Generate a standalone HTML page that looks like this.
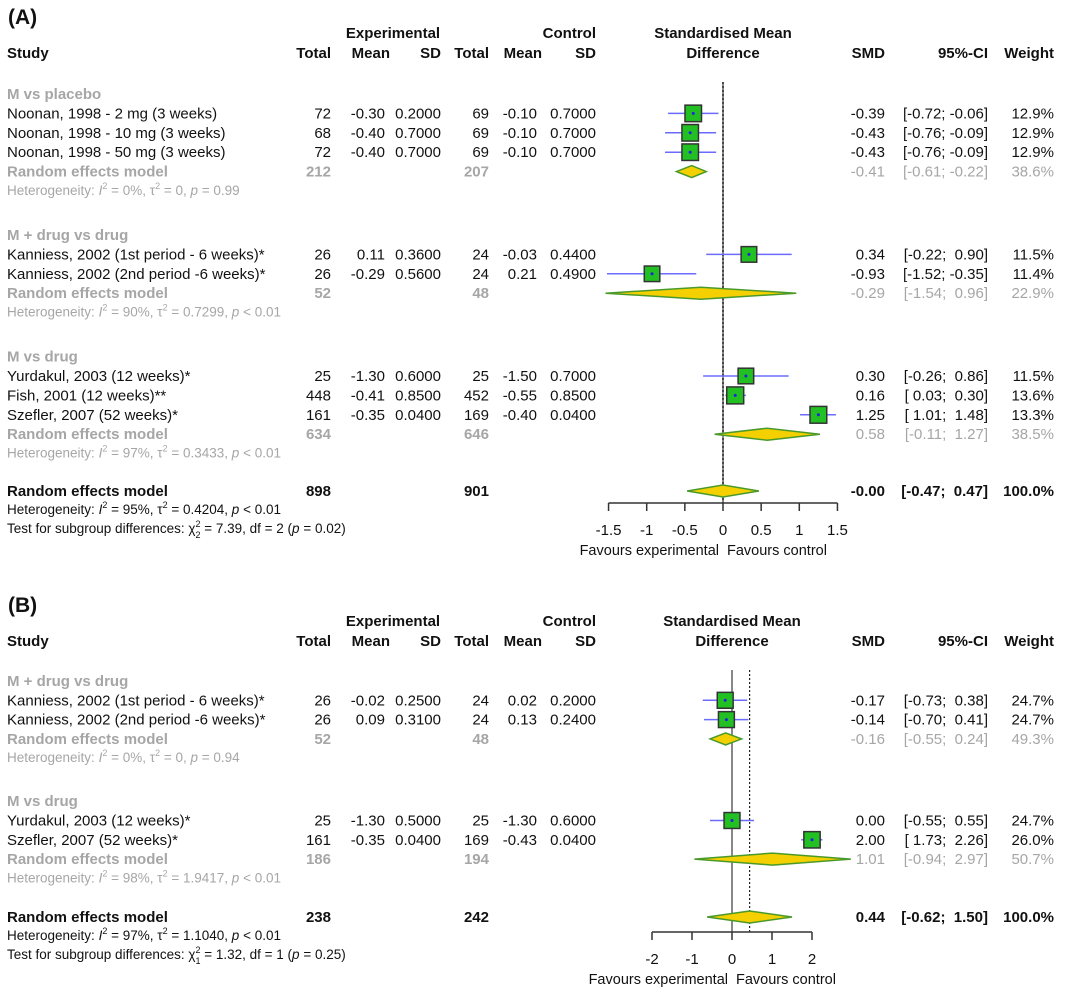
<!DOCTYPE html>
<html><head><meta charset="utf-8"><style>
html,body{margin:0;padding:0;background:#fff}
svg text{font-family:"Liberation Sans",Arial,sans-serif;white-space:pre}
</style></head><body>
<svg id="fp" width="1065" height="995" viewBox="0 0 1065 995" xmlns="http://www.w3.org/2000/svg"></svg>
<script>
// ---------- Panel A data ----------
const aStudies = ["Noonan, 1998 - 2 mg (3 weeks)","Noonan, 1998 - 10 mg (3 weeks)","Noonan, 1998 - 50 mg (3 weeks)","Kanniess, 2002 (1st period - 6 weeks)*","Kanniess, 2002 (2nd period -6 weeks)*","Yurdakul, 2003 (12 weeks)*","Fish, 2001 (12 weeks)**","Szefler, 2007 (52 weeks)*"];
const aEtot = [72,68,72,26,26,25,448,161];
const aEmean = ["-0.30","-0.40","-0.40","0.11","-0.29","-1.30","-0.41","-0.35"];
const aEsd = ["0.2000","0.7000","0.7000","0.3600","0.5600","0.6000","0.8500","0.0400"];
const aCtot = [69,69,69,24,24,25,452,169];
const aCmean = ["-0.10","-0.10","-0.10","-0.03","0.21","-1.50","-0.55","-0.40"];
const aCsd = ["0.7000","0.7000","0.7000","0.4400","0.4900","0.7000","0.8500","0.0400"];
const aSmd = [-0.39,-0.43,-0.43,0.34,-0.93,0.30,0.16,1.25];
const aLo = [-0.72,-0.76,-0.76,-0.22,-1.52,-0.26,0.03,1.01];
const aHi = [-0.06,-0.09,-0.09,0.90,-0.35,0.86,0.30,1.48];
const aW = [12.9,12.9,12.9,11.5,11.4,11.5,13.6,13.3];
const aGroups = ["M vs placebo","M + drug vs drug","M vs drug"];
const aGroupRows = [[0,1,2],[3,4],[5,6,7]];
const aGsmd = [-0.41,-0.29,0.58], aGlo=[-0.61,-1.54,-0.11], aGhi=[-0.22,0.96,1.27], aGw=["38.6%","22.9%","38.5%"];
const aGE=[212,52,634], aGC=[207,48,646];
const aGhet=[["0%","0","= 0.99"],["90%","0.7299","< 0.01"],["97%","0.3433","< 0.01"]];
const aOv = {smd:-0.00,lo:-0.47,hi:0.47,e:898,c:901,het:["95%","0.4204","< 0.01"],chi:["2","7.39","2","0.02"]};
const aTicks = [-1.5,-1,-0.5,0,0.5,1,1.5];
const aTickLabels = ["-1.5","-1","-0.5","0","0.5","1","1.5"];

// ---------- Panel B data ----------
const bStudies = ["Kanniess, 2002 (1st period - 6 weeks)*","Kanniess, 2002 (2nd period -6 weeks)*","Yurdakul, 2003 (12 weeks)*","Szefler, 2007 (52 weeks)*"];
const bEtot=[26,26,25,161];
const bEmean=["-0.02","0.09","-1.30","-0.35"];
const bEsd=["0.2500","0.3100","0.5000","0.0400"];
const bCtot=[24,24,25,169];
const bCmean=["0.02","0.13","-1.30","-0.43"];
const bCsd=["0.2000","0.2400","0.6000","0.0400"];
const bSmd=[-0.17,-0.14,0.00,2.00];
const bLo=[-0.73,-0.70,-0.55,1.73];
const bHi=[0.38,0.41,0.55,2.26];
const bW=[24.7,24.7,24.7,26.0];
const bGroups=["M + drug vs drug","M vs drug"];
const bGroupRows=[[0,1],[2,3]];
const bGsmd=[-0.16,1.01], bGlo=[-0.55,-0.94], bGhi=[0.24,2.97], bGw=["49.3%","50.7%"];
const bGE=[52,186], bGC=[48,194];
const bGhet=[["0%","0","= 0.94"],["98%","1.9417","< 0.01"]];
const bOv={smd:0.44,lo:-0.62,hi:1.50,e:238,c:242,het:["97%","1.1040","< 0.01"],chi:["1","1.32","1","0.25"]};
const bTicks=[-2,-1,0,1,2];
const bTickLabels=["-2","-1","0","1","2"];

const svg=document.getElementById('fp');
const NS="http://www.w3.org/2000/svg";
function mk(tag,attrs,parent){const e=document.createElementNS(NS,tag);for(const k in attrs)e.setAttribute(k,attrs[k]);(parent||svg).appendChild(e);return e;}
function txt(x,y,s,o,parent){o=o||{};const t=mk('text',{x:x,y:y,'font-size':o.fs||15,'fill':o.fill||'#111','text-anchor':o.anchor||'start','font-weight':o.bold?'bold':'normal'},parent);t.textContent=s;return t;}
function fmt(v){return (v<0||Object.is(v,-0)?"-":"")+Math.abs(v).toFixed(2);}
function fmtCI(lo,hi){const f=v=>(v<0?"-":" ")+Math.abs(v).toFixed(2);return "["+f(lo)+"; "+f(hi)+"]";}
const GREY="#a6a6a6";
const COL={tot:331,mean:385,sd:441,ctot:489,cmean:537,csd:596,smd:885,ci:988,w:1054};

function hetText(x,y,h,parent){
  const t=mk('text',{x:x,y:y,'font-size':13.5,fill:parent?'#111':GREY},parent);
  t.innerHTML='Heterogeneity: <tspan font-style="italic">I</tspan><tspan dy="-6" font-size="9">2</tspan><tspan dy="6"> = '+h[0]+', τ</tspan><tspan dy="-6" font-size="9">2</tspan><tspan dy="6"> = '+h[1]+', </tspan><tspan font-style="italic">p</tspan> '+h[2];
  return t;
}

function panel(cfg){
  const g=mk('g',{});
  
  
  const X=v=>cfg.x0+v*cfg.scale;
  const lab=txt(8,cfg.top+24,cfg.label,{fs:21,bold:true},g);
  
  
  const hy=cfg.top+38, hy2=cfg.top+58;
  txt(393,hy,"Experimental",{bold:true,anchor:'middle'},g);
  txt(596,hy,"Control",{bold:true,anchor:'end'},g);
  txt(cfg.x0,hy,"Standardised Mean",{bold:true,anchor:'middle'},g);
  txt(cfg.x0,hy2,"Difference",{bold:true,anchor:'middle'},g);
  txt(7,hy2,"Study",{bold:true},g);
  [["Total",COL.tot],["Mean",COL.mean],["SD",COL.sd],["Total",COL.ctot],["Mean",COL.cmean],["SD",COL.csd],["SMD",COL.smd],["95%-CI",COL.ci],["Weight",COL.w]].forEach(([s,x])=>{
    let xx=x; if(s==="Mean") xx=x+5;
    txt(xx,hy2,s,{bold:true,anchor:'end'},g);
  });
  mk('line',{x1:X(0),x2:X(0),y1:cfg.lineTop,y2:cfg.axisY,stroke:'#888','stroke-width':2},g);
  mk('line',{x1:X(cfg.ov.smd),x2:X(cfg.ov.smd),y1:cfg.lineTop,y2:cfg.axisY,stroke:'#222','stroke-width':1.2,'stroke-dasharray':'2,2'},g);
  const ax=mk('g',{},g);
  
  
  mk('line',{x1:X(cfg.ticks[0]),x2:X(cfg.ticks[cfg.ticks.length-1]),y1:cfg.axisY,y2:cfg.axisY,stroke:'#333','stroke-width':1.5},ax);
  cfg.ticks.forEach((t,i)=>{
    mk('line',{x1:X(t),x2:X(t),y1:cfg.axisY,y2:cfg.axisY+8,stroke:'#333','stroke-width':1.5},ax);
    txt(X(t),cfg.axisY+32,cfg.tickLabels[i],{anchor:'middle'},ax);
  });
  txt(X(0)-4,cfg.axisY+52,"Favours experimental",{anchor:'end',fs:14.5},ax);
  txt(X(0)+4,cfg.axisY+52,"Favours control",{fs:14.5},ax);

  let y=cfg.firstY;
  cfg.groups.forEach((gname,gi)=>{
    const gh=txt(7,y,gname,{bold:true,fill:GREY},g);
    
    
    y+=cfg.rowH;
    cfg.groupRows[gi].forEach(i=>{
      const r=mk('g',{},g);
      
      
      txt(7,y,cfg.d.studies[i],{},r);
      txt(COL.tot,y,String(cfg.d.etot[i]),{anchor:'end'},r);
      txt(COL.mean,y,cfg.d.emean[i],{anchor:'end'},r);
      txt(COL.sd,y,cfg.d.esd[i],{anchor:'end'},r);
      txt(COL.ctot,y,String(cfg.d.ctot[i]),{anchor:'end'},r);
      txt(COL.cmean,y,cfg.d.cmean[i],{anchor:'end'},r);
      txt(COL.csd,y,cfg.d.csd[i],{anchor:'end'},r);
      txt(COL.smd,y,fmt(cfg.d.smd[i]),{anchor:'end'},r);
      txt(COL.ci,y,fmtCI(cfg.d.lo[i],cfg.d.hi[i]),{anchor:'end'},r);
      txt(COL.w,y,cfg.d.w[i].toFixed(1)+"%",{anchor:'end'},r);
      const cy=y-5;
      const ci=mk('line',{x1:X(cfg.d.lo[i]),x2:X(cfg.d.hi[i]),y1:cy,y2:cy,stroke:'#6b6bff','stroke-width':1.5},r);
      
      
      const s=Math.sqrt(cfg.d.w[i])*cfg.boxK;
      const b=mk('rect',{x:X(cfg.d.smd[i])-s/2,y:cy-s/2,width:s,height:s,fill:'#22c022',stroke:'#333','stroke-width':1.5},r);
      
      
      mk('circle',{cx:X(cfg.d.smd[i]),cy:cy,r:1.5,fill:'#2222dd'},r);
      y+=cfg.rowH;
    });
    txt(7,y,"Random effects model",{bold:true,fill:GREY},g);
    txt(COL.tot,y,String(cfg.gE[gi]),{bold:true,fill:GREY,anchor:'end'},g);
    txt(COL.ctot,y,String(cfg.gC[gi]),{bold:true,fill:GREY,anchor:'end'},g);
    txt(COL.smd,y,fmt(cfg.gsmd[gi]),{fill:GREY,anchor:'end'},g);
    txt(COL.ci,y,fmtCI(cfg.glo[gi],cfg.ghi[gi]),{fill:GREY,anchor:'end'},g);
    txt(COL.w,y,cfg.gw[gi],{fill:GREY,anchor:'end'},g);
    const cy=y-5;
    const dm=mk('polygon',{points:`${X(cfg.glo[gi])},${cy} ${X(cfg.gsmd[gi])},${cy-6} ${X(cfg.ghi[gi])},${cy} ${X(cfg.gsmd[gi])},${cy+6}`,fill:'#f5d000',stroke:'#4a9a2a','stroke-width':1.5},g);
    
    
    y+=cfg.rowH;
    hetText(7,y-1,cfg.ghet[gi]);
    y+=cfg.gap;
  });
  const oy=cfg.ovY;
  txt(7,oy,"Random effects model",{bold:true},g);
  txt(COL.tot,oy,String(cfg.ov.e),{bold:true,anchor:'end'},g);
  txt(COL.ctot,oy,String(cfg.ov.c),{bold:true,anchor:'end'},g);
  txt(COL.smd,oy,fmt(cfg.ov.smd),{bold:true,anchor:'end'},g);
  txt(COL.ci,oy,fmtCI(cfg.ov.lo,cfg.ov.hi),{bold:true,anchor:'end'},g);
  txt(COL.w,oy,"100.0%",{bold:true,anchor:'end'},g);
  const od=mk('polygon',{points:`${X(cfg.ov.lo)},${oy-5} ${X(cfg.ov.smd)},${oy-11} ${X(cfg.ov.hi)},${oy-5} ${X(cfg.ov.smd)},${oy+1}`,fill:'#f5d000',stroke:'#4a9a2a','stroke-width':1.5},g);
  
  
  hetText(7,oy+18,cfg.ov.het,g);
  const t=mk('text',{x:7,y:oy+37,'font-size':13.5,fill:'#111'},g);
  t.innerHTML='Test for subgroup differences: χ<tspan dy="-6" font-size="9">2</tspan><tspan dx="-5" dy="11" font-size="9">'+cfg.ov.chi[0]+'</tspan><tspan dy="-5"> = '+cfg.ov.chi[1]+', df = '+cfg.ov.chi[2]+' (</tspan><tspan font-style="italic">p</tspan> = '+cfg.ov.chi[3]+')';
}

panel({name:'panel-a',label:'(A)',top:0,x0:723,scale:76.3,lineTop:82,axisY:503,firstY:99,rowH:19.4,gap:44,ovY:496,boxK:4.6,
  ticks:aTicks,tickLabels:aTickLabels,groups:aGroups,groupRows:aGroupRows,
  d:{studies:aStudies,etot:aEtot,emean:aEmean,esd:aEsd,ctot:aCtot,cmean:aCmean,csd:aCsd,smd:aSmd,lo:aLo,hi:aHi,w:aW},
  gsmd:aGsmd,glo:aGlo,ghi:aGhi,gw:aGw,gE:aGE,gC:aGC,ghet:aGhet,ov:aOv});
panel({name:'panel-b',label:'(B)',top:588,x0:732,scale:40,lineTop:670,axisY:932,firstY:686,rowH:19.3,gap:43,ovY:922,boxK:3.2,
  ticks:bTicks,tickLabels:bTickLabels,groups:bGroups,groupRows:bGroupRows,
  d:{studies:bStudies,etot:bEtot,emean:bEmean,esd:bEsd,ctot:bCtot,cmean:bCmean,csd:bCsd,smd:bSmd,lo:bLo,hi:bHi,w:bW},
  gsmd:bGsmd,glo:bGlo,ghi:bGhi,gw:bGw,gE:bGE,gC:bGC,ghet:bGhet,ov:bOv});
</script>
</body></html>
